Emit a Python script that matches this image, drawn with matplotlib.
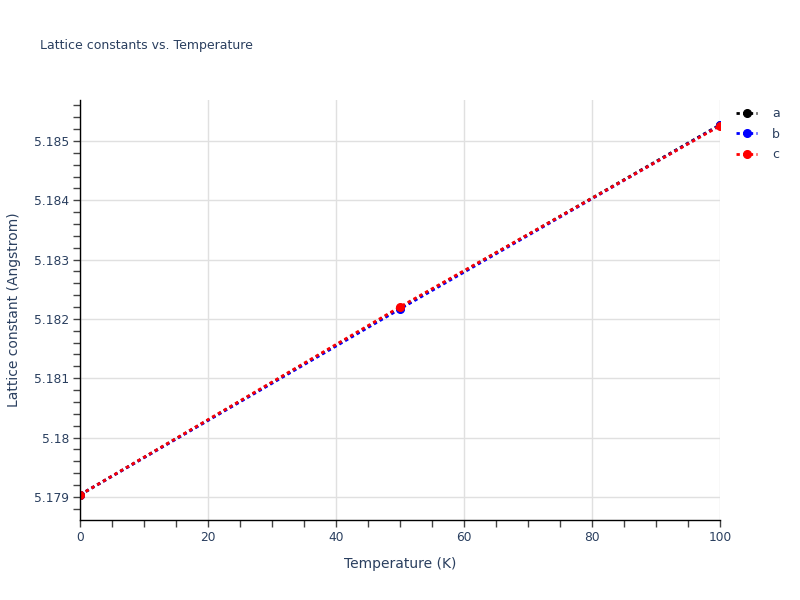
import matplotlib
matplotlib.use("Agg")
import matplotlib.pyplot as plt
from matplotlib.ticker import MultipleLocator, FuncFormatter

temperature = [0, 50, 100]
a_vals = [5.179034, 5.182185, 5.185272]
b_vals = [5.179034, 5.182168, 5.185265]
c_vals = [5.179034, 5.182202, 5.185255]
series_names = ["a", "b", "c"]
series_colors = ["black", "blue", "red"]

plt.rcParams['font.family'] = ['DejaVu Sans']
txt = '#2a3f5f'
tick_txt = '#2a3f5f'

fig = plt.figure(figsize=(8, 6), dpi=100)
ax = fig.add_axes([80/800, 1-520/600, 640/800, 420/600])

for vals, name, col in zip([a_vals, b_vals, c_vals], series_names, series_colors):
    ln, = ax.plot(temperature, vals, linestyle=(0, (1.2, 1.2)), linewidth=2, color=col,
                  marker='o', markersize=5.5, label=name)
    ln.set_clip_path(ax.patch)

ax.set_xlim(0, 100)
ax.set_ylim(5.17861, 5.18569)
ax.xaxis.set_major_locator(MultipleLocator(20))
ax.xaxis.set_minor_locator(MultipleLocator(5))
ax.yaxis.set_major_locator(MultipleLocator(0.001))
ax.yaxis.set_minor_locator(MultipleLocator(0.0002))

def yfmt(v, pos):
    s = f"{v:.3f}".rstrip('0').rstrip('.')
    return s
ax.yaxis.set_major_formatter(FuncFormatter(yfmt))

ax.grid(True, which='major', color='#e0e0e0', linewidth=1)
ax.set_axisbelow(True)
for side in ['top', 'right']:
    ax.spines[side].set_visible(False)
for side in ['left', 'bottom']:
    ax.spines[side].set_color('black')
    ax.spines[side].set_linewidth(1)

ax.tick_params(which='both', direction='out', length=5, width=1, color='#444444',
               labelsize=8.8, labelcolor=tick_txt, pad=3)

ax.set_xlabel('Temperature (K)', fontsize=10, color=txt, labelpad=9)
ax.set_ylabel('Lattice constant (Angstrom)', fontsize=10, color=txt, labelpad=9)

fig.text(40/800, 1-45/600, 'Lattice constants vs. Temperature', fontsize=9,
         color=txt, va='center', ha='left')

leg = ax.legend(loc='upper left', bbox_to_anchor=(736/800, 1-107/600),
                bbox_transform=fig.transFigure, frameon=False, fontsize=9,
                handlelength=1.7, labelspacing=0.62, handletextpad=1.2,
                borderaxespad=0, borderpad=0)
for t in leg.get_texts():
    t.set_color(txt)

fig.savefig('out.png', dpi=100)
